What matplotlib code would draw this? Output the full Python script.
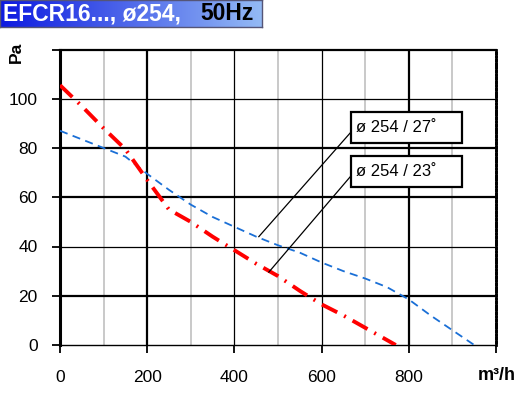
import numpy as np
import matplotlib.pyplot as plt
from matplotlib.patches import Rectangle

plt.rcParams['font.family'] = ['Liberation Sans', 'DejaVu Sans']

# fan curves, flow in m3/h, pressure in Pa
blue_x = [0, 50, 100, 150, 200, 250, 300, 350, 400, 450, 500, 550, 600, 650, 700, 750, 800, 850, 900, 950]
blue_y = [87, 83.5, 80, 76.5, 69.5, 63, 57, 52, 48, 44, 40.5, 37.5, 33.5, 30, 27, 23.5, 18.5, 12, 6, 0]

red_x = [0, 50, 100, 150, 200, 250, 300, 350, 400, 450, 500, 550, 600, 650, 700, 770]
red_y = [105.5, 97, 88, 79.5, 67, 55, 50, 44, 38.5, 33, 28, 22, 16.5, 12, 7, 0]

x_ticks = [0, 200, 400, 600, 800, 1000]
x_labels = ['0', '200', '400', '600', '800', '']
y_ticks = [0, 20, 40, 60, 80, 100, 120]
y_labels = ['0', '20', '40', '60', '80', '100', '']

W, H = 531, 394
fig = plt.figure(figsize=(W / 100, H / 100), dpi=100)
ax = fig.add_axes([60 / W, (H - 345) / H, 436 / W, 295.5 / H])
ax.set_xlim(0, 1000)
ax.set_ylim(0, 120)

# grid
for x in [100, 300, 500, 700, 900]:
    ax.axvline(x, color='#bbbbbb', lw=1.1, zorder=1)
for x, w in [(200, 1.6), (400, 0.9), (600, 0.9), (800, 1.6)]:
    ax.axvline(x, color='black', lw=w, zorder=1)
for y, w in [(20, 1.6), (40, 0.9), (60, 1.6), (80, 1.6), (100, 0.9)]:
    ax.axhline(y, color='black', lw=w, zorder=1)

ax.spines['left'].set_linewidth(2.2)
ax.spines['top'].set_linewidth(1.6)
ax.spines['right'].set_linewidth(2.0)
ax.spines['right'].set_linestyle((0, (1, 0.3)))
ax.spines['bottom'].set_linewidth(1.0)

ax.set_xticks(x_ticks)
ax.set_xticklabels(x_labels)
ax.set_yticks(y_ticks)
ax.set_yticklabels(y_labels)
ax.tick_params(direction='out', length=6, width=1.3, labelsize=12.5, pad=12)
ax.tick_params(axis='y', pad=10)

# curves
ax.plot(blue_x, blue_y, color='#1a6fd6', lw=1.3, dashes=(4.5, 3), zorder=3)
ax.plot(red_x, red_y, color='#ff0000', lw=2.8, dashes=(4.4, 2, 0.5, 2), zorder=3)

# labels with leader lines
boxes = [(82, 94.5, 'ø 254 / 27˚', 86.4, 456, 44),
         (64, 76.7, 'ø 254 / 23˚', 68.6, 479, 29.6)]
for y0, y1, txt, ly, px, py in boxes:
    ax.add_patch(Rectangle((667, y0), 256, y1 - y0, facecolor='white',
                           edgecolor='black', lw=1.6, zorder=5))
    ax.text(680, (y0 + y1) / 2, txt, fontsize=12, va='center', ha='left', zorder=6)
    ax.plot([667, px], [ly, py], color='black', lw=0.9, zorder=4)

fig.text(16 / W, 1 - 52 / H, 'Pa', rotation=90, fontsize=12.5, fontweight='bold',
         ha='center', va='center')
fig.text(497 / W, 1 - 376 / H, 'm³/h', fontsize=13, fontweight='bold',
         ha='center', va='center')

# title bar with gradient
tax = fig.add_axes([0, 1 - 27 / H, 262 / W, 27 / H])
grad = np.linspace(0, 1, 256).reshape(1, -1)
c0 = np.array([0.05, 0.10, 0.88])
c1 = np.array([0.58, 0.73, 0.96])
img = c0[None, None, :] * (1 - grad[..., None]) + c1[None, None, :] * grad[..., None]
tax.imshow(img, aspect='auto', extent=[0, 1, 0, 1])
tax.set_xlim(0, 1)
tax.set_ylim(0, 1)
tax.set_xticks([])
tax.set_yticks([])
for s in tax.spines.values():
    s.set_color('#555577')
    s.set_linewidth(1)
tax.text(3 / 262, 0.5, 'EFCR16..., ø254,', color='white', fontsize=16.5,
         fontweight='bold', va='center', ha='left')
tax.text(200 / 262, 0.5, '50Hz', color='black', fontsize=16.5,
         fontweight='bold', va='center', ha='left')

fig.savefig('out.png', dpi=100)
